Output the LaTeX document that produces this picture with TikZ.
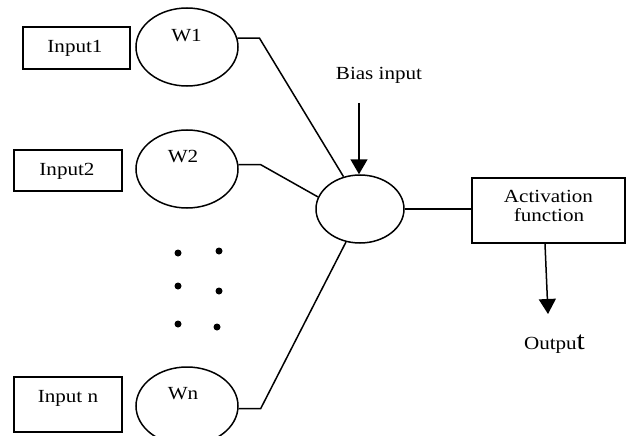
\documentclass[tikz,border=0pt]{standalone}
\usepackage{fontspec}
\setmainfont{Liberation Serif}[FakeStretch=1.14]
\usetikzlibrary{arrows.meta,shapes.geometric}
\begin{document}
\begin{tikzpicture}[x=1pt,y=-1pt,
 box/.style={draw,line width=1.5pt,inner sep=0pt},
 wnode/.style={draw,ellipse,line width=1.5pt,minimum width=102pt,minimum height=78pt,inner sep=0pt},
 txt/.style={font=\fontsize{18.5}{20}\selectfont,anchor=base,inner sep=0pt},
 conn/.style={line width=1.5pt},
 arr/.style={line width=1.5pt,-{Triangle[width=17pt,length=15pt]}},
 dotn/.style={circle,fill,inner sep=0pt,minimum size=7pt}]
\clip (0,0) rectangle (627,436);
\node[box,minimum width=107pt,minimum height=42pt] (in1) at (76.5,48) {};
\node[txt] (in1t) at (75,52.3) {Input1};
\node[box,minimum width=108pt,minimum height=41pt] (in2) at (68,170.5) {};
\node[txt] (in2t) at (67,175) {Input2};
\node[box,minimum width=108pt,minimum height=55pt] (inn) at (68,404.5) {};
\node[txt] (innt) at (68,402.3) {Input n};
\node[wnode] (w1) at (187,47) {};
\node[txt] (w1t) at (186.5,41.7) {W1};
\node[wnode] (w2) at (187,169) {};
\node[txt] (w2t) at (183,162.3) {W2};
\node[wnode] (wn) at (187,406) {};
\node[txt] (wnt) at (183,399) {Wn};
\node[draw,ellipse,line width=1.5pt,minimum width=88pt,minimum height=68pt,inner sep=0pt] (sum) at (360,209) {};
\node[box,minimum width=153pt,minimum height=65pt] (act) at (548.5,210.5) {};
\node[txt] (actt1) at (548.5,202.7) {Activation};
\node[txt] (actt2) at (549,221.7) {function};
\node[txt] (bias) at (379,79.3) {Bias input};
\node[txt] (out) at (554.5,349) {Outpu{\fontsize{26}{28}\selectfont t}};
\node[dotn] (d1) at (178,253) {};
\node[dotn] (d2) at (178,286) {};
\node[dotn] (d3) at (178,324) {};
\node[dotn] (d4) at (219,251) {};
\node[dotn] (d5) at (219,291) {};
\node[dotn] (d6) at (217,327) {};
\draw[conn] (w1.10) -- ++(22,0) -- (sum.117);
\draw[conn] (w2.5) -- ++(22,0) -- (sum.164);
\draw[conn] (wn.-3) -- ++(22,0) -- (sum.247);
\draw[conn] (sum.east) -- (sum.east -| act.west);
\coordinate (biastop) at (359,103);
\draw[arr] (biastop) -- (biastop |- sum.north);
\coordinate (outtip) at (548,314);
\draw[arr] ([xshift=-3.5pt]act.south) -- (outtip);
\end{tikzpicture}
\end{document}
